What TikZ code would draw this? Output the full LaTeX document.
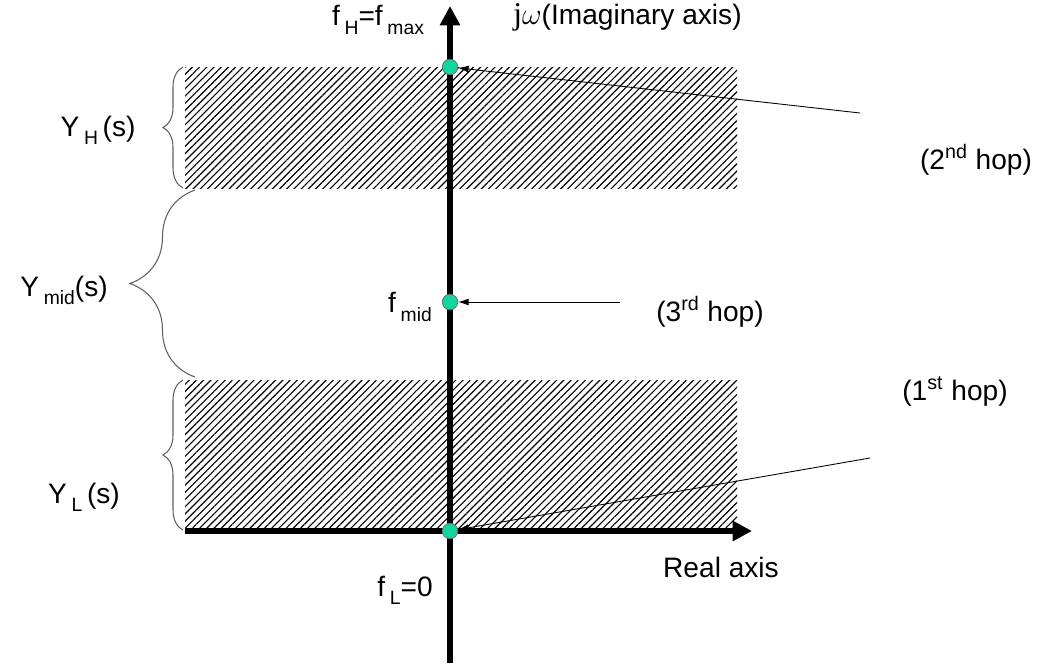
\documentclass[tikz,border=0pt]{standalone}
\usepackage{fontspec}
\setmainfont{Liberation Sans}
\newfontfamily\serifj{Liberation Serif}
\usetikzlibrary{positioning, arrows.meta, patterns.meta, decorations.pathreplacing}
\definecolor{dotfill}{RGB}{22, 212, 160}
\definecolor{brcgray}{RGB}{95, 95, 95}
\newcommand\lowsub[1]{\raisebox{-0.55ex}{\fontsize{11}{11}\selectfont #1}}

\begin{document}
\begin{tikzpicture}[
  x=0.02cm, y=-0.02cm,
  every node/.style={font=\fontsize{16}{19}\selectfont, inner sep=0pt},
  axis/.style={line width=3.2pt, -{Triangle[length=11pt, width=11pt]}},
  hatch/.style={pattern={Lines[angle=45, distance=2.9pt, line width=0.65pt]}, pattern color=black},
  dot/.style={circle, draw=black!60, fill=dotfill, line width=0.4pt, minimum size=0.31cm},
  brc/.style={decorate, draw=brcgray, line width=0.6pt},
  ptr/.style={-{Latex[length=6pt, width=4pt]}, line width=0.5pt},
]
\useasboundingbox (0,0) rectangle (1062,663);

% Hatched bands
\fill[hatch] (185,67) rectangle (737,188);
\fill[hatch] (185,380) rectangle (737,530);

% Axes
\coordinate (ybot) at (450,663);
\coordinate (ytop) at (450,6);
\coordinate (xl) at (185,531);
\coordinate (xr) at (752,531);
\draw[axis] (ybot) -- (ytop);
\draw[axis] (xl) -- (xr);

% Points on the imaginary axis
\node[dot] (dH) at (450,67) {};
\node[dot] (dmid) at (450,302) {};
\node[dot] (dL) at (450,531) {};

% Braces
\draw[brc, decoration={brace, amplitude=0.4cm}] (183,188) -- (183,67);
\draw[brc, decoration={brace, amplitude=1.3cm}] (195,377) -- (195,190);
\draw[brc, decoration={brace, amplitude=0.4cm}] (183,530) -- (183,380);

\node (yh) at (98,130) {Y\,\lowsub{H}\,(s)};
\node (ymid) at (64,290) {Y\,\lowsub{mid}(s)};
\node (yl) at (84,497) {Y\,\lowsub{L}\,(s)};

% Axis labels
\node (fh) at (378,20) {f\,\lowsub{H}=f\,\lowsub{max}};
\node[anchor=west] (im) at (513,17) {{\serifj\fontsize{18}{19}\selectfont j}$\omega$(Imaginary axis)};
\node (fmid) at (410,307) {f\,\lowsub{mid}};
\node (fl) at (405,590) {f\,\lowsub{L}=0};
\node (re) at (721,567) {Real axis};

% Hops
\node (h2) at (976,160) {(2\textsuperscript{nd} hop)};
\node (h3) at (710,312) {(3\textsuperscript{rd} hop)};
\node (h1) at (955,392) {(1\textsuperscript{st} hop)};

\coordinate (p2) at (860,113);
\coordinate (p3) at (620,302);
\coordinate (p1) at (870,458);
\draw[ptr] (p2) -- (dH);
\draw[ptr] (p3) -- (dmid);
\draw[ptr] (p1) -- (dL);

\end{tikzpicture}
\end{document}
